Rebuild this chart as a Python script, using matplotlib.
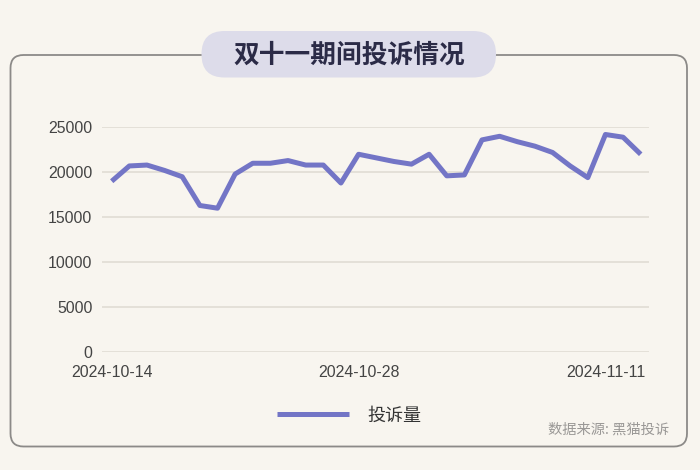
import matplotlib
matplotlib.use("Agg")
import matplotlib.pyplot as plt
import matplotlib.dates as mdates
from matplotlib.patches import FancyBboxPatch
from matplotlib.transforms import IdentityTransform
import pandas as pd

# ---- data ----
start_date = "2024-10-14"
complaints = [19000, 20700, 20800, 20200, 19500, 16300, 16000, 19800, 21000, 21000,
              21300, 20800, 20800, 18800, 22000, 21600, 21200, 20900, 22000, 19600,
              19700, 23600, 24000, 23400, 22900, 22200, 20700, 19400, 24200, 23900,
              22000]
dates = pd.date_range(start_date, periods=len(complaints), freq="D")
tick_dates = ["2024-10-14", "2024-10-28", "2024-11-11"]
y_ticks = [0, 5000, 10000, 15000, 20000, 25000]
title = "双十一期间投诉情况"
series_name = "投诉量"
source = "数据来源: 黑猫投诉"

plt.rcParams['font.family'] = ['Noto Sans CJK SC', 'DejaVu Sans']

BG = "#f8f5ef"
LINE = "#7375c6"
W, H = 700, 470
fig = plt.figure(figsize=(7, 4.7), dpi=100, facecolor=BG)

# frame panel (pixel coords, origin bottom-left)
frame = FancyBboxPatch((10.5, H - 446.5), 676.5, 446.5 - 55, boxstyle="round,pad=0,rounding_size=13",
                       transform=IdentityTransform(), facecolor=BG, edgecolor="#8c8a88",
                       linewidth=1.3, zorder=-2)
fig.patches.append(frame)

# title pill
pill = FancyBboxPatch((201.5, H - 77.5), 294.5, 46.5, boxstyle="round,pad=0,rounding_size=23",
                      transform=IdentityTransform(), facecolor="#dddcea", edgecolor="none",
                      zorder=-1)
fig.patches.append(pill)
fig.text(349 / W, 1 - 55 / H, title, ha="center", va="center", fontsize=18.5,
         fontweight="black", color="#2b2b47")

# axes
ax = fig.add_axes([101.7 / W, (H - 352) / H, (649 - 101.7) / W, (352 - 127.3) / H])
ax.set_facecolor("none")
ax.plot(dates, complaints, color=LINE, linewidth=3.6, solid_joinstyle="round",
        solid_capstyle="butt", label=series_name, zorder=3)

d0 = dates[0]
day = pd.Timedelta(days=1)
ax.set_xlim(mdates.date2num(d0 - 0.567 * day), mdates.date2num(dates[-1] + 0.47 * day))
ax.set_ylim(0, 25000)
ax.set_yticks(y_ticks)
ax.set_yticklabels([str(v) for v in y_ticks])
ax.set_xticks([mdates.date2num(pd.Timestamp(d)) for d in tick_dates])
ax.set_xticklabels(tick_dates)
for s in ax.spines.values():
    s.set_visible(False)
ax.tick_params(axis="both", length=0, labelsize=11.4, labelcolor="#444444")
ax.tick_params(axis="y", pad=6.8)
ax.tick_params(axis="x", pad=9.5)
for lbl in ax.get_xticklabels() + ax.get_yticklabels():
    lbl.set_family(["Liberation Sans", "DejaVu Sans"])
ax.grid(axis="y", color="#e0dcd4", linewidth=1.2, zorder=0)
ax.grid(axis="x", visible=False)
ax.set_axisbelow(True)

# legend
leg = fig.legend(loc="center", bbox_to_anchor=(349 / W, 1 - 415.7 / H), frameon=False,
                 fontsize=13, handlelength=4.0, handletextpad=1.0, labelcolor="#333333")
for h in leg.get_lines():
    h.set_linewidth(3.6)

fig.text(669 / W, 1 - 430 / H, source, ha="right", va="center", fontsize=10.3, color="#9a9896")

fig.savefig("out.png", dpi=100, facecolor=BG)
